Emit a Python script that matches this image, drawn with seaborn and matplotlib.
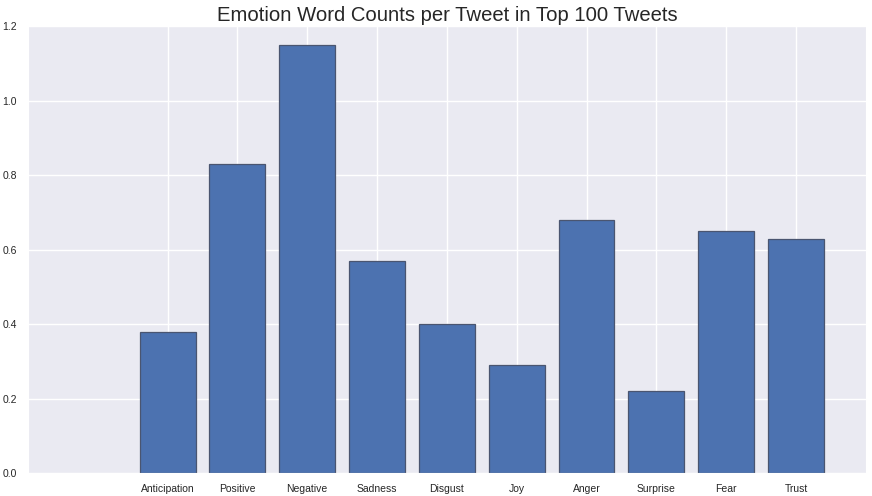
import matplotlib
matplotlib.use("Agg")
import matplotlib.pyplot as plt
import seaborn as sns
import pandas as pd

emotions = ["Anticipation", "Positive", "Negative", "Sadness", "Disgust",
            "Joy", "Anger", "Surprise", "Fear", "Trust"]
counts = [0.38, 0.83, 1.15, 0.57, 0.40, 0.29, 0.68, 0.22, 0.65, 0.63]

df = pd.DataFrame({"emotion": emotions, "count": counts})

sns.set_style("darkgrid")
plt.rcParams["font.family"] = ["Liberation Sans", "DejaVu Sans"]

fig = plt.figure(figsize=(8.72, 4.96), dpi=100)
ax = fig.add_axes([0.032, 0.046, 0.961, 0.901])

sns.barplot(data=df, x="emotion", y="count", color="#4C72B0", saturation=1,
            width=0.8, edgecolor="#4a5570", linewidth=0.9, ax=ax)

ax.set_xlim(-2, 10)
ax.set_ylim(0, 1.2)
ax.set_yticks([0.0, 0.2, 0.4, 0.6, 0.8, 1.0, 1.2])
ax.grid(True, axis="both", color="white", linewidth=1)
ax.set_axisbelow(True)
ax.set_xlabel("")
ax.set_ylabel("")
ax.tick_params(axis="both", length=0, labelsize=7.5, labelcolor="#262626", pad=8)
ax.set_title("Emotion Word Counts per Tweet in Top 100 Tweets", fontsize=14.6,
             color="#262626", pad=4)

fig.savefig("out.png", dpi=100)
